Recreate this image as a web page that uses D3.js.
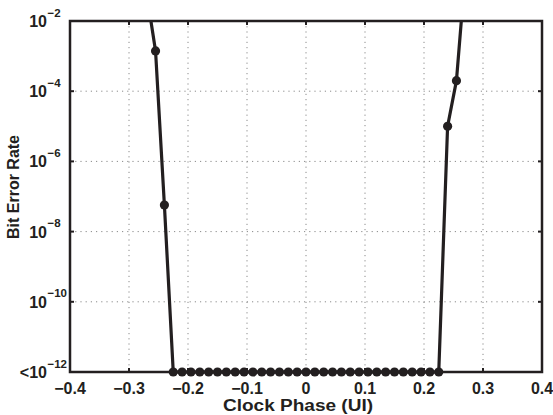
<!DOCTYPE html>
<html>
<head>
<meta charset="utf-8">
<script src="https://cdn.jsdelivr.net/npm/d3@7"></script>
<style>
  body { margin: 0; background: #fff; }
  text { font-family: "Liberation Sans", Arial, sans-serif; font-weight: bold; fill: #231f20; }
</style>
</head>
<body>
<div id="chart"></div>
<script>
///////////////////////////
// DATA
///////////////////////////

// clock phase (UI) of each measured point
let phase = [
    -0.27, -0.255, -0.24, -0.225, -0.21, -0.195, -0.18, -0.165, -0.15, -0.135,
    -0.12, -0.105, -0.09, -0.075, -0.06, -0.045, -0.03, -0.015, 0, 0.015,
    0.03, 0.045, 0.06, 0.075, 0.09, 0.105, 0.12, 0.135, 0.15, 0.165,
    0.18, 0.195, 0.21, 0.225, 0.24, 0.255, 0.27
];

// bit error rate, 1e-12 means "no errors seen" (<10^-12)
let ber = [
    6e-2, 1.4e-3, 5.7e-8, 1e-12, 1e-12, 1e-12, 1e-12, 1e-12, 1e-12, 1e-12,
    1e-12, 1e-12, 1e-12, 1e-12, 1e-12, 1e-12, 1e-12, 1e-12, 1e-12, 1e-12,
    1e-12, 1e-12, 1e-12, 1e-12, 1e-12, 1e-12, 1e-12, 1e-12, 1e-12, 1e-12,
    1e-12, 1e-12, 1e-12, 1e-12, 1e-5, 2e-4, 2.5e-1
];

let xTicks = [-0.4, -0.3, -0.2, -0.1, 0, 0.1, 0.2, 0.3, 0.4];
let xTickLabels = ['\u22120.4', '\u22120.3', '\u22120.2', '\u22120.1', '0', '0.1', '0.2', '0.3', '0.4'];
let yTicks = [1e-12, 1e-10, 1e-8, 1e-6, 1e-4, 1e-2];
let yTickBase = ['<10', '10', '10', '10', '10', '10'];
let yTickExp = ['\u221212', '\u221210', '\u22128', '\u22126', '\u22124', '\u22122'];

///////////////////////////
// CHART
///////////////////////////

const width = 553;
const height = 415;
const m = { left: 70, right: 542, top: 21, bottom: 372 };
const ink = '#231f20';

let svg = d3.select('#chart')
    .append('svg')
    .attr('width', width)
    .attr('height', height);

let x = d3.scaleLinear().domain([-0.4, 0.4]).range([m.left, m.right]);
let y = d3.scaleLog().domain([1e-12, 1e-2]).range([m.bottom, m.top]);

// dotted grid
let grid = svg.append('g')
    .attr('stroke', '#8a8a8a')
    .attr('stroke-width', 1)
    .attr('stroke-dasharray', '1.2,4');

grid.selectAll('.vgrid')
    .data(xTicks.slice(1, -1))
    .enter().append('line')
    .attr('x1', (d) => { return x(d) })
    .attr('x2', (d) => { return x(d) })
    .attr('y1', m.top)
    .attr('y2', m.bottom);

grid.selectAll('.hgrid')
    .data(yTicks.slice(1, -1))
    .enter().append('line')
    .attr('x1', m.left)
    .attr('x2', m.right)
    .attr('y1', (d) => { return y(d) })
    .attr('y2', (d) => { return y(d) });

// inward tick marks on all four sides
let tickLen = 4;
let ticks = svg.append('g').attr('stroke', ink).attr('stroke-width', 2);

xTicks.forEach((d) => {
    ticks.append('line').attr('x1', x(d)).attr('x2', x(d)).attr('y1', m.bottom).attr('y2', m.bottom - tickLen);
    ticks.append('line').attr('x1', x(d)).attr('x2', x(d)).attr('y1', m.top).attr('y2', m.top + tickLen);
});
yTicks.forEach((d) => {
    ticks.append('line').attr('x1', m.left).attr('x2', m.left + tickLen).attr('y1', y(d)).attr('y2', y(d));
    ticks.append('line').attr('x1', m.right).attr('x2', m.right - tickLen).attr('y1', y(d)).attr('y2', y(d));
});

// data, line clipped to the axes box
svg.append('clipPath').attr('id', 'clip')
    .append('rect')
    .attr('x', m.left).attr('y', m.top)
    .attr('width', m.right - m.left).attr('height', m.bottom - m.top + 6);

let points = phase.map((p, i) => { return { p: p, b: ber[i] } });

let plot = svg.append('g');

plot.append('path')
    .datum(points)
    .attr('clip-path', 'url(#clip)')
    .attr('fill', 'none')
    .attr('stroke', ink)
    .attr('stroke-width', 3.2)
    .attr('stroke-linejoin', 'round')
    .attr('d', d3.line()
        .x((d) => { return x(d.p) })
        .y((d) => { return y(d.b) }));

plot.selectAll('.dot')
    .data(points.filter((d) => { return d.b <= 1e-2 }))
    .enter().append('circle')
    .attr('class', 'dot')
    .attr('cx', (d) => { return x(d.p) })
    .attr('cy', (d) => { return y(d.b) })
    .attr('r', 4.6)
    .attr('fill', ink);

// axes box
svg.append('rect')
    .attr('x', m.left).attr('y', m.top)
    .attr('width', m.right - m.left).attr('height', m.bottom - m.top)
    .attr('fill', 'none')
    .attr('stroke', ink)
    .attr('stroke-width', 2.5);

// x tick labels
svg.selectAll('.xlabel')
    .data(xTicks)
    .enter().append('text')
    .attr('class', 'xlabel')
    .attr('x', (d) => { return x(d) })
    .attr('y', 394)
    .attr('text-anchor', 'middle')
    .style('font-size', '16px')
    .text((d, i) => { return xTickLabels[i] });

// y tick labels: base and exponent
svg.selectAll('.ybase')
    .data(yTicks)
    .enter().append('text')
    .attr('class', 'ybase')
    .attr('x', 47)
    .attr('y', (d) => { return y(d) + 6 })
    .attr('text-anchor', 'end')
    .style('font-size', '16px')
    .text((d, i) => { return yTickBase[i] });

svg.selectAll('.yexp')
    .data(yTicks)
    .enter().append('text')
    .attr('class', 'yexp')
    .attr('x', 47.5)
    .attr('y', (d) => { return y(d) - 4.5 })
    .attr('text-anchor', 'start')
    .style('font-size', '11.5px')
    .text((d, i) => { return yTickExp[i] });

// axis titles
svg.append('text')
    .attr('x', 298)
    .attr('y', 411)
    .attr('text-anchor', 'middle')
    .attr('textLength', 150)
    .attr('lengthAdjust', 'spacingAndGlyphs')
    .style('font-size', '16px')
    .text('Clock Phase (UI)');

svg.append('text')
    .attr('transform', 'translate(19,187) rotate(-90)')
    .attr('text-anchor', 'middle')
    .style('font-size', '16px')
    .text('Bit Error Rate');
</script>
</body>
</html>
